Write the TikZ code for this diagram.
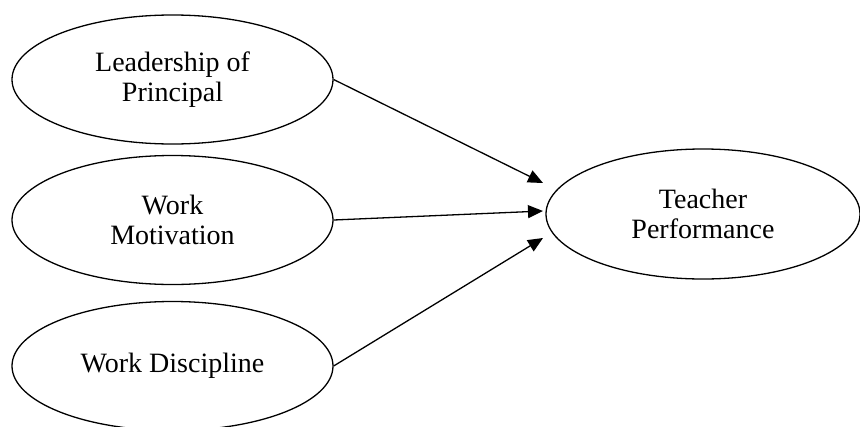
\documentclass[tikz,border=0pt]{standalone}
\usepackage{fontspec}
\setmainfont{Liberation Serif}
\usetikzlibrary{shapes.geometric,arrows.meta}
\begin{document}
\begin{tikzpicture}[x=1pt,y=-1pt,
  var/.style={draw,ellipse,line width=1.3pt,inner sep=0pt,minimum width=321pt,minimum height=129pt,
    align=center,font=\fontsize{28}{30}\selectfont},
  link/.style={line width=1.3pt,-{Triangle[length=15pt,width=13pt]}}]
\useasboundingbox (0,0) rectangle (860,426);
\node[var] (lp) at (172.5,79.5) {Leadership of\\Principal};
\node[var] (wm) at (172.5,220) {Work\\Motivation};
\node[var] (wd) at (172.5,366) {Work Discipline};
\node[var,minimum width=314pt,minimum height=130pt] (tp) at (703,214) {Teacher\\Performance};
\coordinate (t1) at (543,183);
\coordinate (t2) at (543,211);
\coordinate (t3) at (543,238);
\draw[link] (lp.east) -- (t1);
\draw[link] (wm.east) -- (t2);
\draw[link] (wd.east) -- (t3);
\end{tikzpicture}
\end{document}
